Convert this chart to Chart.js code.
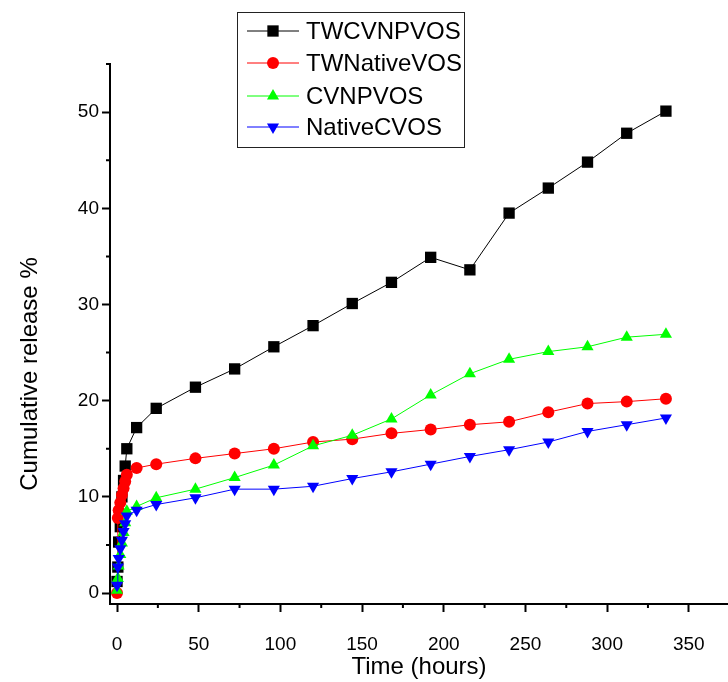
<!DOCTYPE html>
<html>
<head>
<meta charset="utf-8">
<script src="https://cdn.jsdelivr.net/npm/chart.js@4.4.1/dist/chart.umd.min.js"></script>
<style>
  body { margin: 0; background: #fff; }
  #wrap { width: 728px; height: 682px; position: relative; }
</style>
</head>
<body>
<div id="wrap"><canvas id="release"></canvas></div>
<script>
// sampling times (hours)
const hours = [0, 0.5, 1, 2, 3, 4, 5, 6, 12, 24, 48, 72, 96, 120, 144, 168, 192, 216, 240, 264, 288, 312, 336];

// cumulative release % per formulation
const twcvnpvos   = [1.2, 2.7, 5.3, 6.9, 10.0, 11.7, 13.2, 15.0, 17.2, 19.2, 21.4, 23.3, 25.6, 27.8, 30.1, 32.3, 34.9, 33.6, 39.5, 42.1, 44.8, 47.8, 50.1];
const twnativevos = [0.0, 7.8, 8.6, 9.4, 10.2, 10.9, 11.6, 12.3, 13.0, 13.4, 14.0, 14.5, 15.0, 15.7, 16.0, 16.6, 17.0, 17.5, 17.8, 18.8, 19.7, 19.9, 20.2];
const cvnpvos     = [0.3, 1.5, 2.8, 4.0, 5.2, 6.3, 7.3, 8.5, 9.0, 9.9, 10.8, 12.0, 13.3, 15.3, 16.4, 18.1, 20.6, 22.8, 24.3, 25.1, 25.6, 26.6, 26.9];
const nativecvos  = [0.8, 2.7, 3.6, 4.6, 5.5, 6.4, 7.2, 8.0, 8.6, 9.2, 9.9, 10.8, 10.8, 11.1, 11.9, 12.6, 13.4, 14.2, 14.9, 15.7, 16.8, 17.5, 18.2];

const seriesNames = ['TWCVNPVOS', 'TWNativeVOS', 'CVNPVOS', 'NativeCVOS'];

// axis ticks
const xTicks = [0, 50, 100, 150, 200, 250, 300, 350];
const yTicks = [0, 10, 20, 30, 40, 50];
const xMinor = [25, 75, 125, 175, 225, 275, 325, 375];
const yMinor = [5, 15, 25, 35, 45, 55];

const FONT = '"Liberation Sans", Arial, sans-serif';

function toPoints(vals) {
    return hours.map((h, i) => ({ x: h, y: vals[i] }));
}

function series(i, vals, color, style, rotation, radius, order) {
    return {
        label: seriesNames[i],
        data: toPoints(vals),
        showLine: true,
        borderColor: color,
        borderWidth: 1,
        backgroundColor: color,
        pointBackgroundColor: color,
        pointBorderWidth: 0,
        pointStyle: style,
        pointRotation: rotation,
        pointRadius: radius,
        pointHoverRadius: radius,
        order: order
    };
}

// minor ticks, rotated y title and the boxed legend
const decorations = {
    id: 'decorations',
    afterDraw(chart) {
        const { ctx, scales: { x, y } } = chart;
        ctx.save();
        ctx.strokeStyle = '#000';
        ctx.lineWidth = 2;
        ctx.beginPath();
        xMinor.forEach(v => {
            if (v > x.max) return;
            const px = x.getPixelForValue(v);
            ctx.moveTo(px, x.top);
            ctx.lineTo(px, x.top + 4);
        });
        yMinor.forEach(v => {
            if (v > y.max) return;
            const py = y.getPixelForValue(v);
            ctx.moveTo(y.right, py);
            ctx.lineTo(y.right - 4, py);
        });
        ctx.stroke();

        // y axis title
        ctx.fillStyle = '#000';
        ctx.font = '24px ' + FONT;
        ctx.textAlign = 'center';
        ctx.textBaseline = 'middle';
        ctx.translate(30, 374);
        ctx.rotate(-Math.PI / 2);
        ctx.fillText('Cumulative release %', 0, 0);
        ctx.restore();

        // legend
        ctx.save();
        ctx.strokeStyle = '#222';
        ctx.lineWidth = 1;
        ctx.strokeRect(237.5, 12.5, 227, 135);
        const rows = [31, 63, 96, 127];
        ctx.font = '24px ' + FONT;
        ctx.textAlign = 'left';
        ctx.textBaseline = 'middle';
        chart.data.datasets.forEach((ds, i) => {
            const ry = rows[i];
            ctx.strokeStyle = ds.borderColor;
            ctx.lineWidth = 1;
            ctx.beginPath();
            ctx.moveTo(247, ry);
            ctx.lineTo(299, ry);
            ctx.stroke();
            ctx.fillStyle = ds.pointBackgroundColor;
            Chart.helpers.drawPoint(ctx, {
                pointStyle: ds.pointStyle,
                rotation: ds.pointRotation,
                radius: ds.pointRadius,
                borderWidth: 0
            }, 273, ry);
            ctx.fillStyle = '#000';
            ctx.fillText(ds.label, 306, ry + 1);
        });
        ctx.restore();
    }
};

new Chart(document.getElementById('release'), {
    type: 'scatter',
    data: {
        datasets: [
            series(0, twcvnpvos, '#000000', 'rect', 0, 8, 4),
            series(1, twnativevos, '#ff0000', 'circle', 0, 6, 3),
            series(2, cvnpvos, '#00ff00', 'triangle', 0, 7, 2),
            series(3, nativecvos, '#0000ff', 'triangle', 180, 7, 1)
        ]
    },
    options: {
        responsive: true,
        maintainAspectRatio: false,
        animation: false,
        layout: { autoPadding: false, padding: { top: 64, left: 0, right: 0, bottom: 0 } },
        plugins: {
            legend: { display: false },
            tooltip: { enabled: false }
        },
        scales: {
            x: {
                type: 'linear',
                min: -4.3,
                max: 374,
                afterFit: s => { s.height = 78; },
                afterBuildTicks: s => { s.ticks = xTicks.map(v => ({ value: v })); },
                border: { display: true, color: '#000', width: 2 },
                grid: { drawOnChartArea: false, drawTicks: true, tickLength: 8, tickWidth: 2, tickColor: '#000' },
                ticks: { color: '#000', font: { family: FONT, size: 19 }, padding: 21, maxRotation: 0 },
                title: { display: true, text: 'Time (hours)', color: '#000', font: { family: FONT, size: 24 }, padding: { top: 0, bottom: 0 } }
            },
            y: {
                type: 'linear',
                min: -1.14,
                max: 55,
                afterFit: s => { s.width = 110; },
                afterBuildTicks: s => { s.ticks = yTicks.map(v => ({ value: v })); },
                border: { display: true, color: '#000', width: 2 },
                grid: { drawOnChartArea: false, drawTicks: true, tickLength: 8, tickWidth: 2, tickColor: '#000' },
                ticks: { color: '#000', font: { family: FONT, size: 19 }, padding: 3 },
                title: { display: false }
            }
        }
    },
    plugins: [decorations]
});
</script>
</body>
</html>
